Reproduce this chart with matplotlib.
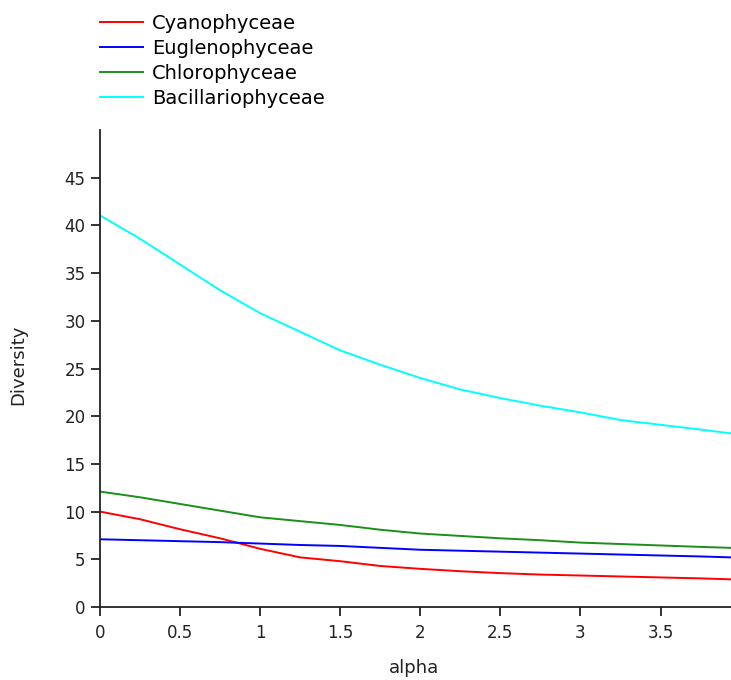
import matplotlib
matplotlib.use("Agg")
import matplotlib.pyplot as plt

plt.rcParams['font.family'] = ['DejaVu Sans']

alpha = [0, 0.25, 0.5, 0.75, 1.0, 1.25, 1.5, 1.75, 2.0, 2.25, 2.5, 2.75, 3.0, 3.25, 3.5, 3.75, 3.94]

cyanophyceae = [10.0, 9.2, 8.15, 7.2, 6.1, 5.2, 4.8, 4.3, 4.0, 3.75, 3.55, 3.4, 3.3, 3.2, 3.1, 3.0, 2.9]
euglenophyceae = [7.1, 7.0, 6.9, 6.8, 6.65, 6.5, 6.4, 6.2, 6.0, 5.9, 5.8, 5.7, 5.6, 5.5, 5.4, 5.3, 5.2]
chlorophyceae = [12.1, 11.5, 10.8, 10.1, 9.4, 9.0, 8.6, 8.1, 7.7, 7.45, 7.2, 7.0, 6.75, 6.6, 6.45, 6.3, 6.2]
bacillariophyceae = [41.05, 38.6, 35.9, 33.2, 30.8, 28.85, 26.9, 25.4, 24.0, 22.8, 21.9, 21.1, 20.4, 19.6, 19.1, 18.6, 18.2]

series_names = ["Cyanophyceae", "Euglenophyceae", "Chlorophyceae", "Bacillariophyceae"]
series_values = [cyanophyceae, euglenophyceae, chlorophyceae, bacillariophyceae]
colors = ["#ff0000", "#0000ff", "#1a8f1a", "#00ffff"]

x_ticks = [0, 0.5, 1, 1.5, 2, 2.5, 3, 3.5]
x_tick_labels = ["0", "0.5", "1", "1.5", "2", "2.5", "3", "3.5"]
y_ticks = [0, 5, 10, 15, 20, 25, 30, 35, 40, 45]

W, H = 731, 680
fig = plt.figure(figsize=(W / 100, H / 100), dpi=100)
ax = fig.add_axes([100 / W, 1 - 607 / H, (731 - 100) / W, (607 - 130) / H])

handles = []
for name, vals, c in zip(series_names, series_values, colors):
    h, = ax.plot(alpha, vals, color=c, lw=1.4, label=name)
    handles.append(h)

ax.set_xlim(0, 3.94)
ax.set_ylim(0, 50)
ax.set_xticks(x_ticks)
ax.set_xticklabels(x_tick_labels)
ax.set_yticks(y_ticks)

for s in ["top", "right"]:
    ax.spines[s].set_visible(False)
for s in ["left", "bottom"]:
    ax.spines[s].set_color("#222222")
    ax.spines[s].set_linewidth(1.3)

ax.tick_params(axis="both", direction="out", length=6.5, width=1.3, color="#222222",
               labelsize=12, labelcolor="#222222")
ax.tick_params(axis="y", pad=4)
ax.tick_params(axis="x", pad=6)

ax.set_xlabel("alpha", fontsize=13, color="#222222")
ax.xaxis.set_label_coords((414 - 100) / 631, (607 - 668) / 477)
ax.xaxis.label.set_va("center")
ax.set_ylabel("Diversity", fontsize=13, color="#222222")
ax.yaxis.set_label_coords((18 - 100) / 631, (607 - 365) / 477)
ax.yaxis.label.set_va("center")

fig.legend(handles=handles, labels=series_names, loc="upper left",
           bbox_to_anchor=(100 / W, 1 - 14 / H), frameon=False, fontsize=14,
           handlelength=2.2, handletextpad=0.46, labelspacing=0.30,
           borderaxespad=0, borderpad=0)

fig.savefig("out.png", dpi=100, facecolor="white")
